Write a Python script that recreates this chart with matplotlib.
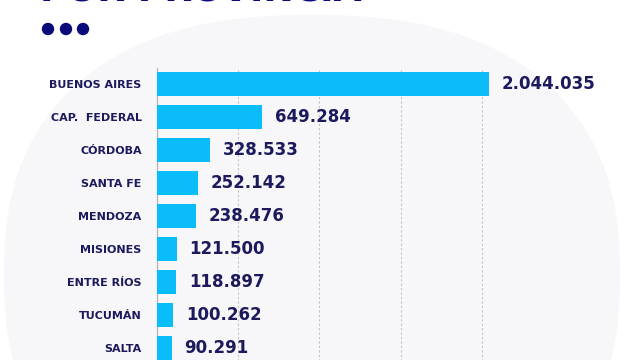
import numpy as np
import matplotlib
matplotlib.use("Agg")
import matplotlib.pyplot as plt
from matplotlib.patches import Circle

# datos por provincia
provincias = ["BUENOS AIRES", "CAP.  FEDERAL", "CÓRDOBA", "SANTA FE", "MENDOZA",
              "MISIONES", "ENTRE RÍOS", "TUCUMÁN", "SALTA"]
valores = [2044035, 649284, 328533, 252142, 238476, 121500, 118897, 100262, 90291]
ticks_x = [0, 500000, 1000000, 1500000, 2000000]

navy = "#1c1a5c"
azul_titulo = "#0b0a7a"
celeste = "#0abcf7"

fig = plt.figure(figsize=(6.4, 3.6), dpi=100)
fig.patch.set_facecolor("white")

# capa de fondo en pixeles (forma gris clara y puntos)
bg = fig.add_axes([0, 0, 1, 1])
t = np.linspace(0, 2 * np.pi, 400)
n = 2.4
cx, cy, a, b = 312, 275, 308, 260
xs = cx + a * np.sign(np.cos(t)) * np.abs(np.cos(t)) ** (2 / n)
ys = cy + b * np.sign(np.sin(t)) * np.abs(np.sin(t)) ** (2 / n)
bg.fill(xs, ys, color="#f7f7f9", lw=0)
bg.set_xlim(0, 640)
bg.set_ylim(360, 0)
bg.axis("off")
for px in (48, 66, 83):
    bg.add_patch(Circle((px, 29), 6.2, color=azul_titulo, lw=0))

# titulo cortado arriba, como en la imagen original
fig.text(40 / 640, 1 - 0.5 / 360, "POR PROVINCIA", color=azul_titulo, fontsize=26,
         fontweight="bold", va="baseline", ha="left")

# grafico de barras
ax = fig.add_axes([157 / 640, -36 / 360, 406 / 640, 328 / 360])
ax.set_zorder(2)
ax.patch.set_alpha(0)
y = np.arange(len(provincias))
ax.barh(y, valores, height=0.72, color=celeste, zorder=3)
ax.set_xlim(0, 2500000)
ax.set_ylim(9.45, -0.485)
ax.set_xticks(ticks_x)
ax.set_xticklabels([])
ax.tick_params(axis="x", length=0)
ax.grid(axis="x", color="#c4c4c4", linestyle=(0, (2, 2)), linewidth=0.8, zorder=1)
ax.set_yticks(y)
ax.set_yticklabels(provincias, fontsize=8, fontweight="bold", color=navy)
ax.tick_params(axis="y", length=0, pad=11)
for s in ["top", "right", "bottom"]:
    ax.spines[s].set_visible(False)
ax.spines["left"].set_color("#b5b5b5")
ax.spines["left"].set_linewidth(0.9)

for yi, v in zip(y, valores):
    ax.annotate(f"{v:,}".replace(",", "."), (v, yi), xytext=(9, 0),
                textcoords="offset points", va="center", ha="left",
                fontsize=12, fontweight="bold", color=navy, clip_on=False)

fig.savefig("out.png", dpi=100)
